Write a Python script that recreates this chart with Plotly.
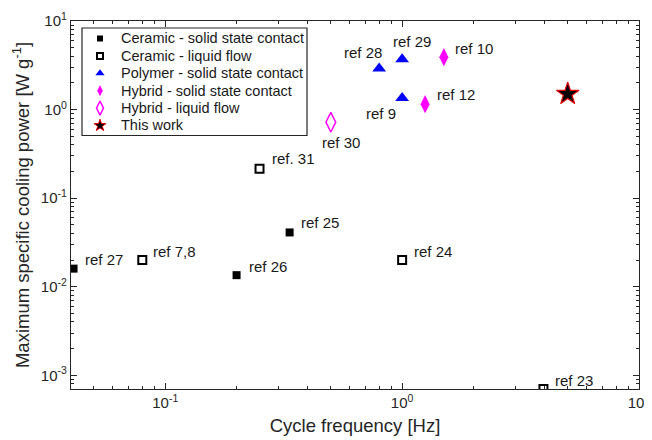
import math
import plotly.graph_objects as go

# ---- data ----
cer_solid_x = [0.041, 0.2, 0.335]
cer_solid_y = [0.016, 0.0135, 0.041]
cer_solid_lbl = ["ref 27", "ref 26", "ref 25"]

cer_liq_x = [0.08, 0.25, 1.0, 3.95]
cer_liq_y = [0.02, 0.215, 0.02, 0.0007]
cer_liq_lbl = ["ref 7,8", "ref. 31", "ref 24", "ref 23"]

poly_x = [0.8, 1.0, 1.0]
poly_y = [2.9, 3.7, 1.35]
poly_lbl = ["ref 28", "ref 29", "ref 9"]

hyb_solid_x = [1.5, 1.25]
hyb_solid_y = [3.9, 1.15]
hyb_solid_lbl = ["ref 10", "ref 12"]

hyb_liq_x = [0.5]
hyb_liq_y = [0.72]
hyb_liq_lbl = ["ref 30"]

work_x = [5.0]
work_y = [1.5]

legend_names = ["Ceramic - solid state contact", "Ceramic - liquid flow",
                "Polymer - solid state contact", "Hybrid - solid state contact",
                "Hybrid - liquid flow", "This work"]

x_tickvals = [0.1, 1, 10]
x_ticktext = ["10<sup>-1</sup>", "10<sup>0</sup>", "10<sup>1</sup>"]
y_tickvals = [0.001, 0.01, 0.1, 1, 10]
y_ticktext = ["10<sup>-3</sup>", "10<sup>-2</sup>", "10<sup>-1</sup>", "10<sup>0</sup>", "10<sup>1</sup>"]

FONT = "Liberation Sans, Arial, sans-serif"
MAG = "#FF00FF"
AX = "#262626"
TXT = "#1a1a1a"

styles = [
    (dict(symbol="square", size=8, color="black"),
     dict(symbol="square", size=6, color="black")),
    (dict(symbol="square-open", size=8, color="black", line=dict(width=2, color="black")),
     dict(symbol="square-open", size=6, color="black", line=dict(width=2, color="black"))),
    (dict(symbol="triangle-up", size=12, color="#0000FF"),
     dict(symbol="triangle-up", size=8, color="#0000FF")),
    (dict(symbol="diamond-tall", size=13, color=MAG),
     dict(symbol="diamond-tall", size=8, color=MAG)),
    (dict(symbol="diamond-tall-open", size=14, color=MAG, line=dict(width=1.5, color=MAG)),
     dict(symbol="diamond-tall-open", size=10, color=MAG, line=dict(width=1.5, color=MAG))),
    (dict(symbol="star", size=17, color="black", line=dict(width=1.2, color="#E00000")),
     dict(symbol="star", size=9, color="black", line=dict(width=1, color="#E00000"))),
]
data_series = [(cer_solid_x, cer_solid_y), (cer_liq_x, cer_liq_y), (poly_x, poly_y),
               (hyb_solid_x, hyb_solid_y), (hyb_liq_x, hyb_liq_y), (work_x, work_y)]

fig = go.Figure()
for name, (xs, ys), (mk, _) in zip(legend_names, data_series, styles):
    fig.add_trace(go.Scatter(x=xs, y=ys, mode="markers", name=name, marker=mk,
                             showlegend=False, xaxis="x", yaxis="y"))

# page body offsets the figure by 8px; plot box in screen pixels
PAGE = 8
PX_L, PX_R, PX_T, PX_B = 71, 639, 21, 389
def fx(px):
    return (px - PX_L) / (PX_R - PX_L)
def fy(py):
    return (PX_B - py) / (PX_B - PX_T)

# ---- custom legend (box, markers on an overlay 0..1 axis, text annotations) ----
leg_row0, leg_dy = 38.5, 17.4
for i, (name, (_, lmk)) in enumerate(zip(legend_names, styles)):
    yy = fy(leg_row0 + i * leg_dy)
    fig.add_trace(go.Scatter(x=[fx(100)], y=[yy], mode="markers", marker=lmk,
                             showlegend=False, hoverinfo="skip",
                             xaxis="x2", yaxis="y2"))
    fig.add_annotation(x=fx(119), y=yy, xref="paper", yref="paper", text=name,
                       showarrow=False, xanchor="left", yanchor="middle",
                       font=dict(family=FONT, size=14.5, color=TXT))
fig.add_shape(type="rect", xref="paper", yref="paper",
              x0=fx(82), x1=fx(307), y0=fy(135.5), y1=fy(28),
              line=dict(color=AX, width=1.2), fillcolor="white", layer="below")

# ---- point labels: (xshift, yshift, xanchor) in pixels ----
offsets = {
    "ref 27": (9, 9, "left"), "ref 26": (10, 9, "left"), "ref 25": (9, 10, "left"),
    "ref 7,8": (9, 9, "left"), "ref. 31": (10, 10, "left"), "ref 24": (10, 9, "left"),
    "ref 23": (10, 9, "left"),
    "ref 28": (-16, 16, "center"), "ref 29": (10, 18, "center"), "ref 9": (-21, -15, "center"),
    "ref 10": (9, 9, "left"), "ref 12": (10, 10, "left"),
    "ref 30": (10, -20, "center"),
}
for xs, ys, ls in [(cer_solid_x, cer_solid_y, cer_solid_lbl),
                   (cer_liq_x, cer_liq_y, cer_liq_lbl),
                   (poly_x, poly_y, poly_lbl),
                   (hyb_solid_x, hyb_solid_y, hyb_solid_lbl),
                   (hyb_liq_x, hyb_liq_y, hyb_liq_lbl)]:
    for x, y, l in zip(xs, ys, ls):
        dx, dy, xa = offsets[l]
        fig.add_annotation(x=math.log10(x), y=math.log10(y), xref="x", yref="y",
                           text=l, showarrow=False,
                           xanchor=xa, yanchor="middle", xshift=dx, yshift=dy,
                           font=dict(family=FONT, size=15, color=TXT))

def minor_vals(lo_exp, hi_exp):
    return [m * 10 ** e for e in range(lo_exp, hi_exp) for m in range(2, 10)]

axis_common = dict(type="log", showgrid=False, zeroline=False, showline=True,
                   linecolor=AX, linewidth=1.2, mirror="ticks", automargin=False,
                   ticks="inside", ticklen=6, tickcolor=AX,
                   tickfont=dict(family=FONT, size=15, color=AX))

fig.update_layout(
    xaxis=dict(**axis_common, range=[math.log10(0.04), 1],
               tickvals=x_tickvals, ticktext=x_ticktext,
               minor=dict(ticks="inside", ticklen=3, tickcolor=AX, tickmode="array",
                          tickvals=minor_vals(-2, 1), showgrid=False),
               title=dict(text="Cycle frequency [Hz]", standoff=8,
                          font=dict(family=FONT, size=18.5, color=AX))),
    yaxis=dict(**axis_common, range=[math.log10(0.0007), 1],
               tickvals=y_tickvals, ticktext=y_ticktext,
               minor=dict(ticks="inside", ticklen=3, tickcolor=AX, tickmode="array",
                          tickvals=minor_vals(-4, 1), showgrid=False),
               title=dict(text="Maximum specific cooling power [W g<sup>-1</sup>]", standoff=6,
                          font=dict(family=FONT, size=18.5, color=AX))),
    xaxis2=dict(overlaying="x", range=[0, 1], visible=False, fixedrange=True),
    yaxis2=dict(overlaying="y", range=[0, 1], visible=False, fixedrange=True),
    width=652, height=440,
    margin=dict(l=PX_L - PAGE, r=652 - (PX_R - PAGE), t=PX_T - PAGE, b=440 - (PX_B - PAGE)),
    paper_bgcolor="white", plot_bgcolor="white",
    font=dict(family=FONT, color=TXT),
    showlegend=False,
)

fig.write_html("out.html")
